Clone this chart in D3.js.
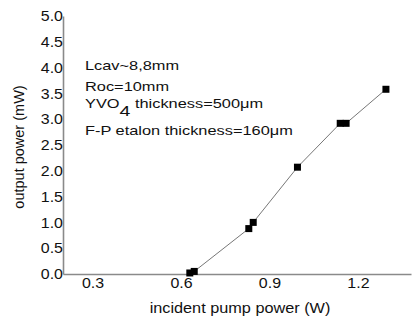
<!DOCTYPE html>
<html>
<head>
<meta charset="utf-8">
<script src="https://cdn.jsdelivr.net/npm/d3@7"></script>
<style>
  body { margin: 0; background: #fff; }
  svg { display: block; font-family: "Liberation Sans", Arial, sans-serif; }
</style>
</head>
<body>
<svg id="chart" width="415" height="320"></svg>
<script>
// Incident pump power (W) and measured output power (mW)
const pumpPower = [0.63, 0.645, 0.83, 0.845, 0.995, 1.14, 1.16, 1.295];
const outputPower = [0.02, 0.05, 0.88, 1.0, 2.07, 2.92, 2.92, 3.58];
const xTicks = [0.3, 0.6, 0.9, 1.2];
const yTicks = [0, 0.5, 1.0, 1.5, 2.0, 2.5, 3.0, 3.5, 4.0, 4.5, 5.0];
const notes = ["Lcav~8,8mm", "Roc=10mm", "YVO|4| thickness=500μm", "F-P etalon thickness=160μm"];

const svg = d3.select("#chart");
const x = d3.scaleLinear().domain([0.2, 1.38]).range([63, 411]);
const y = d3.scaleLinear().domain([0, 5]).range([274, 16]);
const ink = "#111";

// axes (no tick marks, wide label face)
const xAxis = svg.append("g").attr("transform", `translate(0,${y(0)})`)
  .call(d3.axisBottom(x).tickValues(xTicks).tickSize(0).tickPadding(4).tickFormat(d3.format(".1f")));
const yAxis = svg.append("g").attr("transform", `translate(${x(0.2)},0)`)
  .call(d3.axisLeft(y).tickValues(yTicks).tickSize(0).tickPadding(0).tickFormat(d3.format(".1f")));
[xAxis, yAxis].forEach(g => {
  g.select(".domain").attr("stroke", "#8a8a8a").attr("stroke-width", 1.6);
  g.selectAll("text").attr("font-size", 14).attr("fill", ink)
    .attr("font-family", "Liberation Sans, Arial, sans-serif")
    .attr("transform", "scale(1.14,1)");
});
yAxis.selectAll("text").attr("dy", "0.34em");

// connecting line
svg.append("path")
  .datum(pumpPower.map((p, i) => [p, outputPower[i]]))
  .attr("fill", "none").attr("stroke", "#777").attr("stroke-width", 1)
  .attr("d", d3.line().x(d => x(d[0])).y(d => y(d[1])));

// square markers
svg.selectAll("rect.pt").data(pumpPower).enter().append("rect")
  .attr("class", "pt")
  .attr("x", d => x(d) - 3.5).attr("y", (d, i) => y(outputPower[i]) - 3.5)
  .attr("width", 7).attr("height", 7).attr("fill", "#000");

// annotation text
const noteY = [70, 91, 108, 135];
notes.forEach((n, i) => {
  const t = svg.append("text")
    .attr("transform", `translate(85,${noteY[i]}) scale(1.26,1)`)
    .attr("font-size", 13).attr("fill", ink);
  const parts = n.split("|");
  if (parts.length === 1) { t.text(n); return; }
  t.append("tspan").text(parts[0]);
  t.append("tspan").attr("dy", 8).attr("font-size", 15.5).text(parts[1]);
  t.append("tspan").attr("dy", -8).text(parts[2]);
});

// axis titles
svg.append("text").attr("transform", "translate(240,313) scale(1.05,1)")
  .attr("text-anchor", "middle")
  .attr("font-size", 15.5).attr("fill", ink).text("incident pump power (W)");
svg.append("text").attr("transform", "translate(24,147) rotate(-90)")
  .attr("text-anchor", "middle").attr("font-size", 14.5).attr("fill", ink)
  .text("output power (mW)");
</script>
</body>
</html>
